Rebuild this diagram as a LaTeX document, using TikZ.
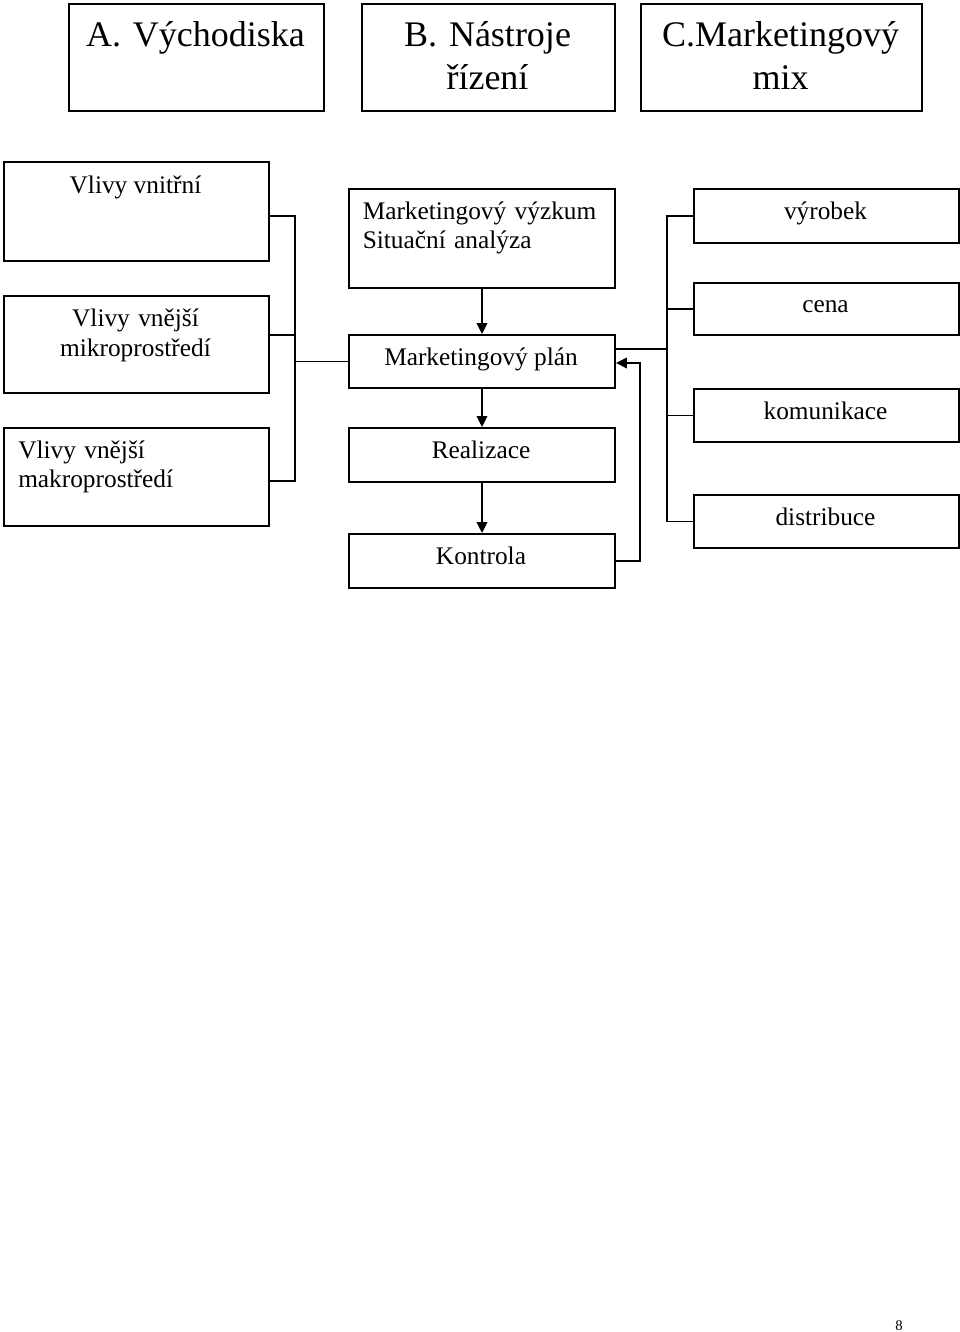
\documentclass[tikz,border=0pt]{standalone}
\usepackage{fontspec}
\setmainfont{Liberation Serif}
\usetikzlibrary{arrows.meta}
\frenchspacing

\begin{document}
\begin{tikzpicture}[x=0.75pt,y=-0.75pt,
  box/.style 2 args={draw, line width=1.5pt, inner sep=0pt, anchor=north west,
    minimum width=#1*0.75pt, minimum height=#2*0.75pt},
  head/.style={font=\fontsize{27}{32.25}\selectfont, inner sep=0pt, anchor=base,
    text width=190pt, align=center},
  txt/.style={font=\fontsize{19}{22.1}\selectfont, inner sep=0pt, anchor=base},
  line/.style={line width=1.1pt},
  arrow/.style={line width=1.1pt, -{Triangle[length=8.2pt,width=8pt]}}]
\useasboundingbox (0,0) rectangle (960,1332);
\node[box={255}{107}] (hA) at (68,3) {};
\node[box={253}{107}] (hB) at (361,3) {};
\node[box={281}{107}] (hC) at (640,3) {};
\node[head] (hA-t) at (195.5,46.5) {A. Východiska};
\node[head] (hB-t) at (487.5,46.5) {B. Nástroje\\řízení};
\node[head] (hC-t) at (780.5,46.5) {C.Marketingový\\mix};
\node[box={265}{99}] (vnitrni) at (3,161) {};
\node[box={265}{97}] (mikro) at (3,295) {};
\node[box={265}{98}] (makro) at (3,427) {};
\node[txt] (vnitrni-t) at (135.5,193.3) {Vlivy vnitřní};
\node[txt, text width=190pt, align=center] (mikro-t) at (135.5,326.7) {Vlivy vnější\\mikroprostředí};
\node[txt, anchor=base west, text width=180pt, align=left] (makro-t) at (18,458.3) {Vlivy vnější\\makroprostředí};
\node[box={266}{99}] (vyzkum) at (348,188) {};
\node[box={266}{53}] (plan) at (348,334) {};
\node[box={266}{54}] (realiz) at (348,427) {};
\node[box={266}{54}] (kontr) at (348,533) {};
\node[txt, anchor=base west, text width=190pt, align=left] (vyzkum-t) at (362.5,219.3) {Marketingový výzkum\\Situační analýza};
\node[txt] (plan-t) at (481,365.7) {Marketingový plán};
\node[txt] (realiz-t) at (481,458.3) {Realizace};
\node[txt] (kontr-t) at (481,564) {Kontrola};
\node[box={265}{54}] (vyrobek) at (693,188) {};
\node[box={265}{52}] (cena) at (693,282) {};
\node[box={265}{53}] (komun) at (693,388) {};
\node[box={265}{53}] (distr) at (693,494) {};
\node[txt] (vyrobek-t) at (825.5,219.3) {výrobek};
\node[txt] (cena-t) at (825.5,312.3) {cena};
\node[txt] (komun-t) at (825.5,419) {komunikace};
\node[txt] (distr-t) at (825.5,525) {distribuce};
\node[font=\fontsize{11}{13}\selectfont, inner sep=0pt, anchor=base] (page) at (899,1330) {8};
\coordinate (busL) at (295,0 |- plan.west);
\coordinate (out) at ([yshift=9.4pt]plan.east);
\coordinate (busR) at (667,0 |- out);
\coordinate (fb) at ([yshift=-1.1pt]plan.east);
\coordinate (back) at (640,0 |- fb);
\draw[line] ([yshift=-3.4pt]vnitrni.east) -| (busL) |- ([yshift=-3pt]makro.east);
\draw[line] ([yshift=7.1pt]mikro.east) -| (busL);
\draw[line] (busL) -- (plan.west);
\draw[arrow] (vyzkum) -- (plan);
\draw[arrow] (plan) -- (realiz);
\draw[arrow] (realiz) -- (kontr);
\draw[arrow] (kontr.east) -| (back) -- (fb);
\draw[line] (out) -- (busR);
\draw[line] (vyrobek.west) -| (busR) |- (distr.west);
\draw[line] (cena.west) -- (cena.west -| busR);
\draw[line] (komun.west) -- (komun.west -| busR);
\end{tikzpicture}
\end{document}
